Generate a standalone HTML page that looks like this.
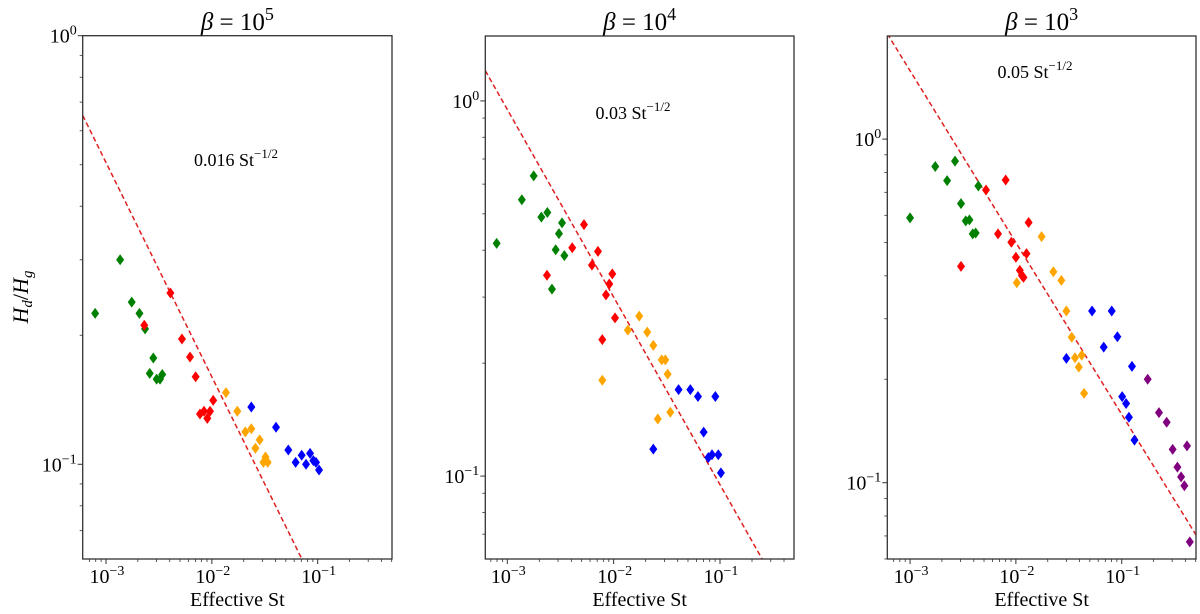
<!DOCTYPE html>
<html><head><meta charset="utf-8"><style>
html,body{margin:0;padding:0;background:#fff;width:1200px;height:614px;overflow:hidden}
svg{display:block}
text{font-family:"Liberation Serif","DejaVu Serif",serif;fill:#000}
</style></head><body>
<svg id="chart" width="1200" height="614" viewBox="0 0 1200 614" xmlns="http://www.w3.org/2000/svg"></svg>
<script>
const panelTitles = ["5","4","3"];
const fitCoefs = [0.016, 0.03, 0.05];
const fitLabels = ["0.016","0.03","0.05"];
const xTicks = [-3,-2,-1];
const seriesColors = ["#008000","#ff0000","#ffa500","#0000ff","#800080"];
const seriesNames = ["green","red","orange","blue","purple"];

// Panel 1 (beta=1e5)
const p1x = [
 [7.9e-4,1.36e-3,1.75e-3,2.07e-3,2.34e-3,2.80e-3,2.59e-3,3.01e-3,3.24e-3,3.40e-3],
 [2.30e-3,4.06e-3,5.22e-3,6.22e-3,7.03e-3,7.73e-3,8.43e-3,9.06e-3,9.61e-3,1.03e-2],
 [1.36e-2,1.74e-2,2.07e-2,2.36e-2,2.58e-2,2.83e-2,3.07e-2,3.21e-2,3.37e-2],
 [2.36e-2,4.04e-2,5.28e-2,6.19e-2,7.06e-2,7.76e-2,8.47e-2,9.10e-2,9.64e-2,0.103],
 []];
const p1y = [
 [0.225,0.300,0.239,0.225,0.207,0.177,0.163,0.158,0.158,0.162],
 [0.211,0.251,0.196,0.178,0.160,0.131,0.133,0.128,0.133,0.141],
 [0.147,0.133,0.119,0.121,0.109,0.114,0.101,0.104,0.101],
 [0.136,0.122,0.108,0.101,0.105,0.100,0.106,0.102,0.101,0.097],
 []];
// Panel 2 (beta=1e4)
const p2x = [
 [7.94e-4,1.37e-3,1.77e-3,2.09e-3,2.38e-3,3.06e-3,3.27e-3,2.85e-3,3.44e-3,2.63e-3],
 [2.36e-3,4.08e-3,5.26e-3,6.25e-3,7.12e-3,9.10e-3,9.71e-3,8.47e-3,1.03e-2,7.82e-3],
 [7.82e-3,1.36e-2,1.74e-2,2.07e-2,2.36e-2,2.83e-2,3.06e-2,3.22e-2,2.60e-2,3.41e-2],
 [2.36e-2,4.08e-2,5.26e-2,6.21e-2,9.04e-2,7.02e-2,7.76e-2,8.41e-2,9.64e-2,0.102],
 []];
const p2y = [
 [0.417,0.545,0.631,0.490,0.504,0.443,0.473,0.401,0.387,0.315],
 [0.343,0.406,0.468,0.365,0.397,0.325,0.346,0.304,0.264,0.231],
 [0.180,0.245,0.267,0.242,0.223,0.204,0.204,0.187,0.142,0.148],
 [0.118,0.170,0.170,0.163,0.163,0.131,0.112,0.114,0.114,0.102],
 []];
// Panel 3 (beta=1e3)
const p3x = [
 [1.0e-3,1.73e-3,2.24e-3,2.66e-3,3.03e-3,3.36e-3,3.64e-3,3.91e-3,4.17e-3,4.42e-3],
 [3.03e-3,5.22e-3,6.78e-3,8.01e-3,9.06e-3,1.00e-2,1.09e-2,1.14e-2,1.18e-2,1.26e-2,1.32e-2],
 [1.02e-2,1.75e-2,2.26e-2,2.69e-2,3.00e-2,3.37e-2,3.62e-2,3.93e-2,4.19e-2,4.41e-2],
 [3.00e-2,5.25e-2,6.76e-2,8.05e-2,9.10e-2,0.125,0.101,0.110,0.117,0.132],
 [0.176,0.225,0.266,0.303,0.336,0.364,0.391,0.414,0.440]];
const p3y = [
 [0.590,0.832,0.757,0.863,0.649,0.578,0.582,0.530,0.533,0.730],
 [0.426,0.711,0.530,0.760,0.501,0.453,0.415,0.401,0.396,0.464,0.572],
 [0.382,0.520,0.411,0.388,0.316,0.265,0.231,0.217,0.235,0.182],
 [0.230,0.316,0.248,0.316,0.266,0.218,0.178,0.170,0.155,0.133],
 [0.200,0.160,0.150,0.125,0.111,0.104,0.098,0.128,0.0673]];

const panels = [
 {L:82.7,R:392,T:35.7,B:559,xmin:-3.22,xmax:-0.298,ymin:-1.221,ymax:0,yTicks:[0,-1],xs:p1x,ys:p1y,note:[236,160]},
 {L:485.3,R:794,T:36,B:559,xmin:-3.207,xmax:-0.304,ymin:-1.221,ymax:0.173,yTicks:[0,-1],xs:p2x,ys:p2y,note:[633,113]},
 {L:887.3,R:1196,T:36,B:559,xmin:-3.215,xmax:-0.298,ymin:-1.222,ymax:0.30,yTicks:[0,-1],xs:p3x,ys:p3y,note:[1035,72]}
];
const NS="http://www.w3.org/2000/svg";
const svg=document.getElementById('chart');
function mk(tag,attrs,parent){const e=document.createElementNS(NS,tag);for(const k in attrs)e.setAttribute(k,attrs[k]);(parent||svg).appendChild(e);return e;}

panels.forEach((p,pi)=>{
 const g=mk('g',{});
 
 
 const sx=v=>p.L+(Math.log10(v)-p.xmin)/(p.xmax-p.xmin)*(p.R-p.L);
 const sy=v=>p.B-(Math.log10(v)-p.ymin)/(p.ymax-p.ymin)*(p.B-p.T);
 const clipId='clip'+pi;
 const cp=mk('clipPath',{id:clipId},g);
 mk('rect',{x:p.L,y:p.T,width:p.R-p.L,height:p.B-p.T},cp);
 const x0=Math.pow(10,p.xmin), x1=Math.pow(10,p.xmax);
 const fl=mk('line',{x1:sx(x0),y1:sy(fitCoefs[pi]/Math.sqrt(x0)),x2:sx(x1),y2:sy(fitCoefs[pi]/Math.sqrt(x1)),stroke:'#e02020','stroke-width':1.5,'stroke-dasharray':'5,3','clip-path':'url(#'+clipId+')'},g);
 
 
 p.xs.forEach((arr,si)=>{
  arr.forEach((xv,i)=>{
   const cx=sx(xv), cy=sy(p.ys[si][i]);
   const d=mk('polygon',{points:`${cx},${cy-5.5} ${cx+4},${cy} ${cx},${cy+5.5} ${cx-4},${cy}`,fill:seriesColors[si]},g);
   
   
  });
 });
 const fr=mk('rect',{x:p.L,y:p.T,width:p.R-p.L,height:p.B-p.T,fill:'none',stroke:'#333','stroke-width':1.3},g);
 
 
 for(let e=-4;e<=0;e++){for(let m=1;m<10;m++){const lv=e+Math.log10(m);if(lv<p.xmin||lv>p.xmax)continue;const x=p.L+(lv-p.xmin)/(p.xmax-p.xmin)*(p.R-p.L);mk('line',{x1:x,y1:p.B,x2:x,y2:p.B+(m==1?5:3),stroke:'#333','stroke-width':m==1?1:0.8},g);}}
 xTicks.forEach(t=>{const x=p.L+(t-p.xmin)/(p.xmax-p.xmin)*(p.R-p.L);const tx=mk('text',{x:x+1,y:p.B+24,'font-size':20,'text-anchor':'middle'},g);tx.innerHTML=`10<tspan dy="-8" font-size="14">−${-t}</tspan>`;});
 for(let e=-2;e<=1;e++){for(let m=1;m<10;m++){const lv=e+Math.log10(m);if(lv<p.ymin||lv>p.ymax)continue;const y=p.B-(lv-p.ymin)/(p.ymax-p.ymin)*(p.B-p.T);mk('line',{x1:p.L,y1:y,x2:p.L-(m==1?5:3),y2:y,stroke:'#333','stroke-width':m==1?1:0.8},g);}}
 p.yTicks.forEach(t=>{const y=p.B-(t-p.ymin)/(p.ymax-p.ymin)*(p.B-p.T);const tx=mk('text',{x:p.L-6,y:y+7,'font-size':20,'text-anchor':'end'},g);tx.innerHTML=t==0?`10<tspan dy="-8" font-size="14">0</tspan>`:`10<tspan dy="-8" font-size="14">−1</tspan>`;});
 const cx=(p.L+p.R)/2;
 const ti=mk('text',{x:cx,y:30,'font-size':25,'text-anchor':'middle'},g);
 
 
 ti.innerHTML=`<tspan font-style="italic">β</tspan> = 10<tspan dy="-10" font-size="18">${panelTitles[pi]}</tspan>`;
 const xl=mk('text',{x:cx,y:606,'font-size':20,'text-anchor':'middle'},g);
 
 
 xl.textContent='Effective St';
 const nt=mk('text',{x:p.note[0],y:p.note[1]+6,'font-size':18,'text-anchor':'middle'},g);
 
 
 nt.innerHTML=`${fitLabels[pi]} St<tspan dy="-8" font-size="13">−1/2</tspan>`;
});
const yl=mk('text',{x:0,y:0,'font-size':22,'text-anchor':'middle',transform:'translate(28,297) rotate(-90)'});


yl.innerHTML=`<tspan font-style="italic">H</tspan><tspan font-style="italic" font-size="15" dy="4">d</tspan><tspan dy="-4">/</tspan><tspan font-style="italic">H</tspan><tspan font-style="italic" font-size="15" dy="4">g</tspan>`;
</script>
</body></html>
